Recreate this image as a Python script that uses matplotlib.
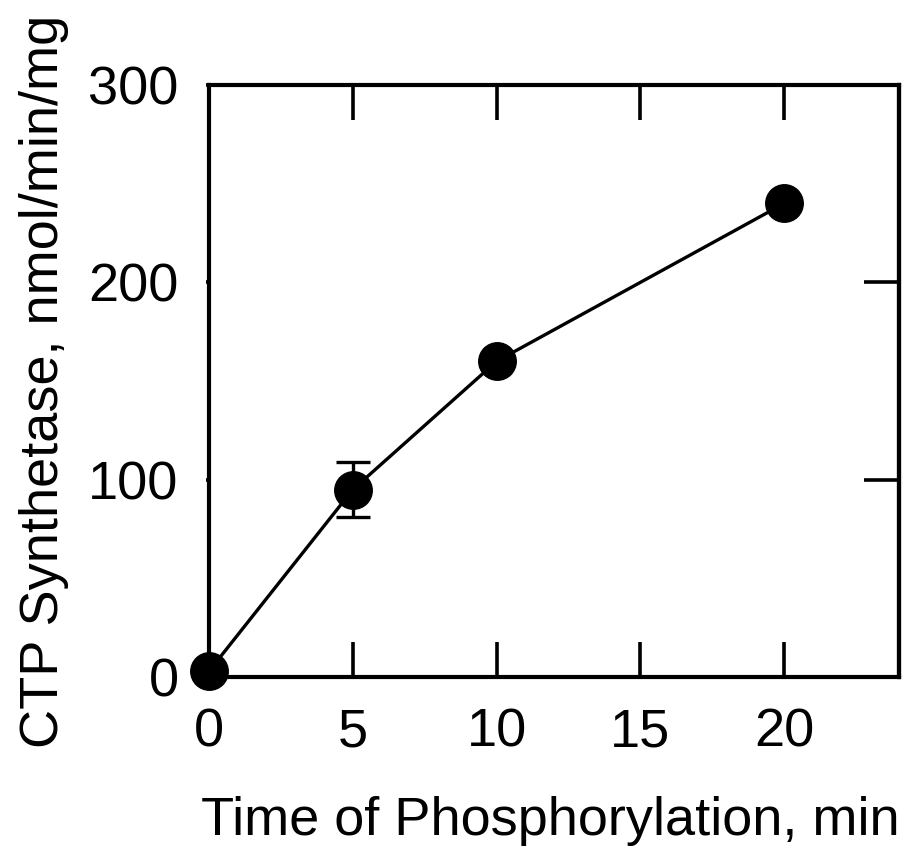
import matplotlib
matplotlib.use("Agg")
import matplotlib.pyplot as plt

plt.rcParams['font.family'] = ['Liberation Sans', 'DejaVu Sans']

time_min = [0, 5, 10, 20]
activity = [3, 95, 160, 240]
err = [0, 14, 0, 0]

x_ticks = [0, 5, 10, 15, 20]
y_ticks = [0, 100, 200, 300]

fig = plt.figure(figsize=(9.13, 8.49), dpi=100)
ax = fig.add_axes([0.229, 0.2026, 0.756, 0.6973])

ax.plot(time_min, activity, color='black', lw=2.4, zorder=2)
ax.errorbar(time_min[1], activity[1], yerr=err[1], fmt='none', ecolor='black',
            elinewidth=2.4, capsize=12, capthick=2.4, zorder=2)
ax.plot(time_min, activity, 'o', color='black', ms=27, zorder=3, clip_on=False)

ax.set_xlim(0, 24)
ax.set_ylim(0, 300)
ax.set_xticks(x_ticks)
ax.set_yticks(y_ticks)

for s in ax.spines.values():
    s.set_linewidth(3)

ax.tick_params(axis='x', direction='in', length=25, width=2.6, top=True,
               labeltop=False, labelsize=39, pad=22)
ax.tick_params(axis='y', direction='out', length=2, width=2.6, right=False,
               labelsize=39, pad=20)

# right-side inward ticks at 100 and 200
ax2 = ax.twinx()
ax2.set_ylim(0, 300)
ax2.set_yticks([100, 200])
ax2.tick_params(axis='y', direction='in', length=25, width=2.6, labelright=False)
ax2.spines['right'].set_linewidth(3)

ax.set_xlabel('Time of Phosphorylation, min', fontsize=39, labelpad=28, loc='right')
ax.set_ylabel('CTP Synthetase, nmol/min/mg', fontsize=39, labelpad=14, loc='center')

fig.savefig('out.png', dpi=100)
